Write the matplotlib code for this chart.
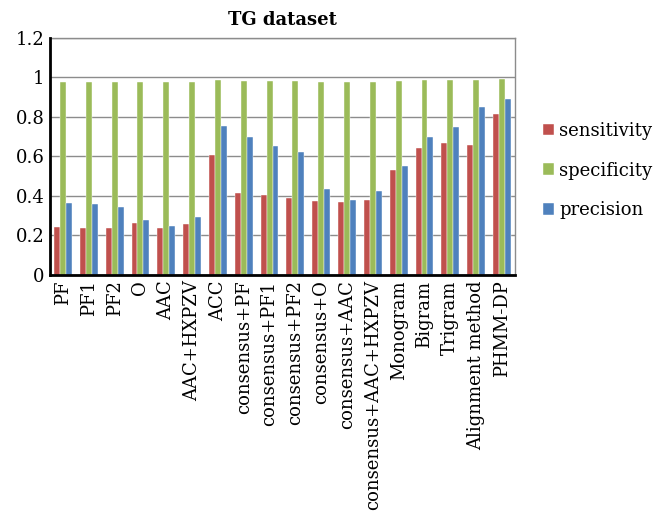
import numpy as np
import matplotlib
matplotlib.use("Agg")
import matplotlib.pyplot as plt

methods = ["PF", "PF1", "PF2", "O", "AAC", "AAC+HXPZV", "ACC",
           "consensus+PF", "consensus+PF1", "consensus+PF2", "consensus+O",
           "consensus+AAC", "consensus+AAC+HXPZV", "Monogram", "Bigram",
           "Trigram", "Alignment method", "PHMM-DP"]
sensitivity = [0.242, 0.239, 0.239, 0.261, 0.239, 0.259, 0.605,
               0.414, 0.405, 0.388, 0.373, 0.369, 0.378, 0.532, 0.642,
               0.666, 0.656, 0.815]
specificity = [0.976, 0.976, 0.976, 0.975, 0.975, 0.976, 0.986,
               0.981, 0.981, 0.980, 0.978, 0.978, 0.978, 0.983, 0.986,
               0.988, 0.988, 0.993]
precision = [0.366, 0.358, 0.342, 0.280, 0.246, 0.292, 0.753,
             0.697, 0.654, 0.620, 0.436, 0.378, 0.427, 0.549, 0.697,
             0.751, 0.851, 0.890]

plt.rcParams["font.family"] = ["DejaVu Serif"]

fig = plt.figure(figsize=(6.67, 5.11), dpi=100)
ax = fig.add_axes([0.075, 0.462, 0.697, 0.464])
ax.set_axisbelow(True)

x = np.arange(len(methods))
w = 0.23
series = [("sensitivity", sensitivity, "#C0504D"),
          ("specificity", specificity, "#9BBB59"),
          ("precision", precision, "#4F81BD")]
for i, (name, vals, col) in enumerate(series):
    ax.bar(x + (i - 1) * w, vals, w, color=col, label=name,
           edgecolor="white", linewidth=0.3, zorder=2)

ax.set_xlim(-0.5, len(methods) - 0.5)
ax.set_ylim(0, 1.2)
ax.set_yticks(np.arange(0, 1.21, 0.2))
ax.set_yticklabels(["0", "0.2", "0.4", "0.6", "0.8", "1", "1.2"], fontsize=13)
ax.set_xticks(x)
ax.set_xticklabels(methods, rotation=90, fontsize=13)
ax.tick_params(length=0, pad=4)
ax.yaxis.grid(True, color="#8c8c8c", linewidth=1.0)

for s in ["top", "right"]:
    ax.spines[s].set_color("#8c8c8c")
    ax.spines[s].set_linewidth(1.0)
for s in ["left", "bottom"]:
    ax.spines[s].set_color("black")
    ax.spines[s].set_linewidth(2.0)
    ax.spines[s].set_zorder(3)

ax.set_title("TG dataset", fontsize=13, fontweight="bold", pad=9)

ax.legend(loc="center left", bbox_to_anchor=(1.025, 0.44), frameon=False,
          fontsize=13, handlelength=0.6, handleheight=0.6, handletextpad=0.3,
          labelspacing=1.2)

fig.savefig("out.png", dpi=100)
